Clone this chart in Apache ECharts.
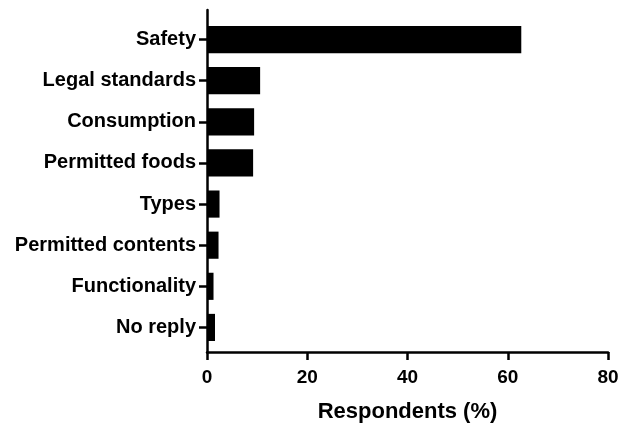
<!DOCTYPE html>
<html>
<head>
<meta charset="utf-8">
<script src="https://cdn.jsdelivr.net/npm/echarts@6/dist/echarts.min.js"></script>
<style>
  html, body { margin: 0; padding: 0; background: #fff; }
  #chart { width: 632px; height: 428px; }
</style>
</head>
<body>
<div id="chart"></div>
<script>
// Topics respondents asked about, top to bottom
const categories = [
  'Safety', 'Legal standards', 'Consumption', 'Permitted foods',
  'Types', 'Permitted contents', 'Functionality', 'No reply'
];
// Share of respondents (%)
const respondents = [62.7, 10.6, 9.4, 9.2, 2.5, 2.3, 1.3, 1.6];
// Value axis ticks
const xTicks = [0, 20, 40, 60, 80];
const axisTitle = 'Respondents (%)';

const FONT = '"Liberation Sans", Arial, Helvetica, sans-serif';
const chart = echarts.init(document.getElementById('chart'), null, { renderer: 'canvas' });

const lineStyle = { color: '#000', width: 2.5 };

chart.setOption({
  backgroundColor: '#fff',
  animation: false,
  grid: [
    // bars
    { left: 207, right: 24, top: 19, bottom: 80 },
    // frame: axis lines, value ticks and title
    { left: 207, right: 24, top: 10, bottom: 74 }
  ],
  xAxis: [
    {
      gridIndex: 0, type: 'value',
      min: xTicks[0], max: xTicks[xTicks.length - 1], interval: 20,
      show: false
    },
    {
      gridIndex: 1, type: 'value',
      min: xTicks[0], max: xTicks[xTicks.length - 1], interval: 20,
      axisLine: { show: true, lineStyle: lineStyle },
      axisTick: { show: true, length: 8, lineStyle: lineStyle },
      splitLine: { show: false },
      axisLabel: {
        margin: 16, color: '#000', fontFamily: FONT,
        fontWeight: 'bold', fontSize: 19
      },
      name: axisTitle,
      nameLocation: 'middle',
      nameGap: 49,
      nameTextStyle: {
        color: '#000', fontFamily: FONT, fontWeight: 'bold', fontSize: 22
      }
    }
  ],
  yAxis: [
    {
      gridIndex: 0, type: 'category', data: categories, inverse: true,
      axisLine: { show: false },
      axisTick: { show: true, alignWithLabel: true, length: 8, lineStyle: lineStyle },
      splitLine: { show: false },
      axisLabel: {
        margin: 11, color: '#000', fontFamily: FONT,
        fontWeight: 'bold', fontSize: 20
      }
    },
    {
      gridIndex: 1, type: 'value', min: 0, max: 1,
      axisLine: { show: true, lineStyle: lineStyle },
      axisTick: { show: false },
      axisLabel: { show: false },
      splitLine: { show: false }
    }
  ],
  series: [
    {
      type: 'bar',
      xAxisIndex: 0,
      yAxisIndex: 0,
      data: respondents,
      barCategoryGap: '34%',
      itemStyle: { color: '#000' },
      silent: true
    }
  ]
});
</script>
</body>
</html>
